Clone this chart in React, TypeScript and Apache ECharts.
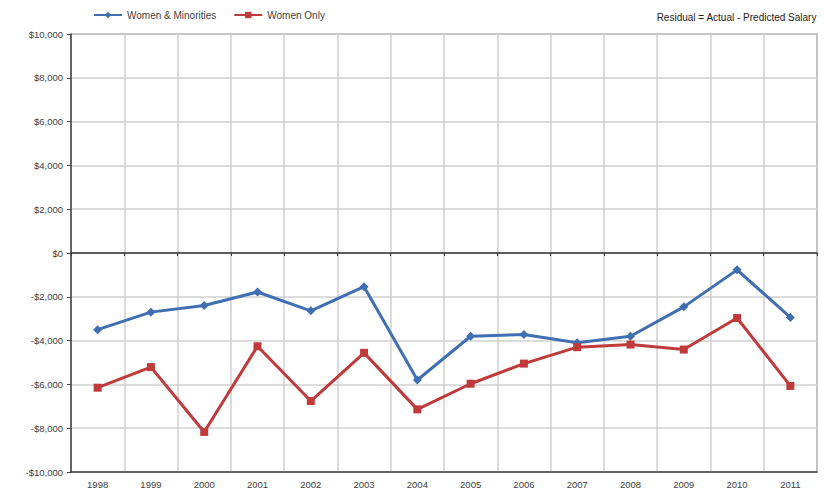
import React, { useEffect, useRef } from "react";
import * as echarts from "echarts";

const years = ["1998","1999","2000","2001","2002","2003","2004","2005","2006","2007","2008","2009","2010","2011"];
const womenMinorities = [-3500,-2700,-2400,-1780,-2640,-1540,-5800,-3800,-3720,-4100,-3800,-2460,-770,-2940];
const womenOnly = [-6150,-5210,-8170,-4260,-6760,-4560,-7140,-5970,-5050,-4300,-4180,-4410,-2970,-6070];
const noteText = "Residual = Actual - Predicted Salary";

const fmt = (v: number) => {
  const a = Math.abs(v).toLocaleString("en-US");
  return v < 0 ? "-$" + a : "$" + a;
};

export default function App() {
  const ref = useRef<HTMLDivElement>(null);
  useEffect(() => {
    if (!ref.current) return;
    const chart = echarts.init(ref.current, null, { renderer: "svg" });
    chart.setOption({
      animation: false,
      backgroundColor: "#ffffff",
      textStyle: { fontFamily: "Liberation Sans, Arial, sans-serif" },
      legend: {
        left: 88,
        top: 5,
        itemWidth: 28,
        itemHeight: 8,
        itemGap: 17,
        textStyle: { fontSize: 10, color: "#404040" },
        data: ["Women & Minorities", "Women Only"],
      },
      graphic: [
        {
          type: "text",
          right: 8,
          top: 12,
          style: { text: noteText, fontSize: 10, fill: "#222", fontFamily: "Liberation Sans, Arial, sans-serif" },
        },
      ],
      grid: {
        left: 71,
        right: 8,
        top: 34,
        bottom: 21,
        show: true,
        borderColor: "#555",
        borderWidth: 1.2,
      },
      xAxis: [
        {
          type: "category",
          data: years,
          boundaryGap: true,
          position: "bottom",
          axisLine: { onZero: false, lineStyle: { color: "#444", width: 1.5 } },
          axisTick: { show: false },
          axisLabel: { fontSize: 9.5, color: "#404040", margin: 7 },
          splitLine: { show: true, lineStyle: { color: "#d0d0d0", width: 1.5 } },
        },
        {
          type: "category",
          data: years,
          boundaryGap: true,
          position: "bottom",
          axisLine: { onZero: true, lineStyle: { color: "#333", width: 1.5 } },
          axisTick: { show: true, length: 3, inside: false, lineStyle: { color: "#333" } },
          axisLabel: { show: false },
          splitLine: { show: false },
        },
      ],
      yAxis: {
        type: "value",
        min: -10000,
        max: 10000,
        interval: 2000,
        axisLine: { show: true, lineStyle: { color: "#444", width: 1.5 } },
        axisTick: { show: true, length: 4, lineStyle: { color: "#444" } },
        axisLabel: { fontSize: 9.5, color: "#404040", formatter: fmt, margin: 8 },
        splitLine: { show: true, lineStyle: { color: "#d0d0d0", width: 1.5 } },
      },
      series: [
        {
          name: "Women & Minorities",
          type: "line",
          xAxisIndex: 0,
          data: womenMinorities,
          color: "#3f6fb2",
          symbol: "diamond",
          symbolSize: 9,
          lineStyle: { width: 3 },
          z: 3,
        },
        {
          name: "Women Only",
          type: "line",
          xAxisIndex: 0,
          data: womenOnly,
          color: "#c0393b",
          symbol: "rect",
          symbolSize: 8,
          lineStyle: { width: 3 },
          z: 4,
        },
      ],
    });
    return () => chart.dispose();
  }, []);
  return (
    <div
      ref={ref}
      style={{ position: "absolute", left: 0, top: 0, width: 825, height: 493 }}
    />
  );
}
